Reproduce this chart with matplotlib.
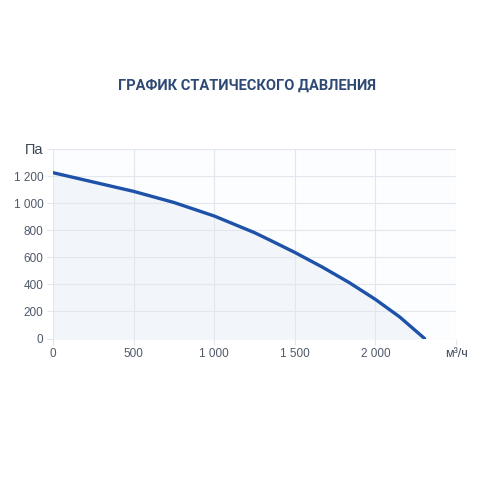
import matplotlib
matplotlib.use("Agg")
import matplotlib.pyplot as plt
from matplotlib.ticker import FuncFormatter

# Static pressure curve
airflow = [0, 250, 500, 750, 1000, 1250, 1330, 1500, 1670, 1835, 2000, 2150, 2305]
pressure = [1225, 1156, 1087, 1005, 905, 782, 736, 636, 528, 415, 289, 160, 0]

x_ticks = [0, 500, 1000, 1500, 2000, 2500]
y_ticks = [0, 200, 400, 600, 800, 1000, 1200, 1400]
x_unit = "м³/ч"
y_unit = "Па"
title = "ГРАФИК СТАТИЧЕСКОГО ДАВЛЕНИЯ"

plt.rcParams["font.family"] = ["Roboto", "DejaVu Sans"]

fig = plt.figure(figsize=(5, 5), dpi=100)
fig.patch.set_facecolor("white")
ax = fig.add_axes([0.106, 0.323, 0.806, 0.379])
ax.set_facecolor("#fcfdfe")

ax.fill_between(airflow, pressure, 0, color="#f2f5fa", zorder=1)
ax.plot(airflow, pressure, color="#1d52a8", linewidth=2.4, zorder=3,
        solid_capstyle="round", solid_joinstyle="round")

ax.set_xlim(0, 2500)
ax.set_ylim(0, 1400)
ax.set_xticks(x_ticks)
ax.set_yticks(y_ticks)


def fmt_num(v):
    return f"{int(v):,}".replace(",", " ")


ax.xaxis.set_major_formatter(FuncFormatter(
    lambda v, p: x_unit if v == x_ticks[-1] else fmt_num(v)))
ax.yaxis.set_major_formatter(FuncFormatter(
    lambda v, p: y_unit if v == y_ticks[-1] else fmt_num(v)))

ax.grid(True, color="#e3e6ed", linewidth=0.8, zorder=0)
for s in ax.spines.values():
    s.set_visible(False)
ax.tick_params(axis="both", length=4, color="#e3e6ed", labelsize=8.5,
               labelcolor="#4f596a", pad=3)
for lbl in ax.get_xticklabels() + ax.get_yticklabels():
    lbl.set_family(["Liberation Sans", "DejaVu Sans"])

for lbl in ax.get_yticklabels():
    if lbl.get_text() == y_unit:
        lbl.set_fontsize(10.5)
        lbl.set_color("#3a4556")
for lbl in ax.get_xticklabels():
    if lbl.get_text() == x_unit:
        lbl.set_color("#3a4556")
        lbl.set_fontsize(9)

fig.text(0.493, 0.828, title, ha="center", va="center", fontsize=10.5,
         fontweight="bold", color="#2e4a74")

fig.savefig("out.png", dpi=100)
